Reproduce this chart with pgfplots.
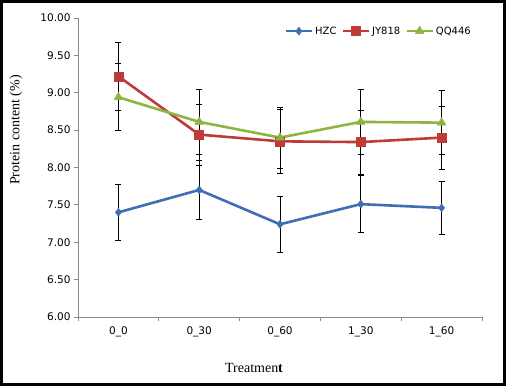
\documentclass[border=0pt]{standalone}
\usepackage{fontspec}
\setmainfont{Liberation Serif}
\newfontfamily\tickfont{DejaVu Sans}
\usepackage{pgfplots}
\pgfplotsset{compat=1.18}
\definecolor{cHZC}{HTML}{3F6EB5}
\definecolor{cJY}{HTML}{BE3B37}
\definecolor{cQQ}{HTML}{8DB53F}
\definecolor{axgray}{HTML}{8A8A8A}
\begin{document}
\begin{tikzpicture}[x=1pt,y=1pt]
\fill[white] (0,0) rectangle (506,386);
\begin{axis}[at={(78pt,69pt)}, anchor=south west, scale only axis,
  width=404pt, height=299pt,
  xmin=-0.5, xmax=4.5, ymin=6, ymax=10,
  axis x line*=bottom, axis y line*=left,
  axis line style={axgray, line width=0.8pt, -},
  tick style={axgray, line width=0.8pt},
  tick align=outside, major tick length=4pt,
  xtick={-0.5,0.5,1.5,2.5,3.5,4.5}, xticklabels={},
  extra x ticks={0,1,2,3,4},
  extra x tick labels={0\_0,0\_30,0\_60,1\_30,1\_60},
  extra x tick style={major tick length=0pt},
  xticklabel style={font=\tickfont\fontsize{10.5}{12}\selectfont, yshift=-6pt, text=black},
  ytick={6,6.5,7,7.5,8,8.5,9,9.5,10},
  yticklabel style={font=\tickfont\fontsize{10.5}{12}\selectfont, text=black,
    /pgf/number format/.cd, fixed, fixed zerofill, precision=2, assume math mode=true},
  legend style={at={(0.985,0.985)}, anchor=north east, draw=none, fill=none,
    legend columns=3, font=\tickfont\fontsize{10}{11}\selectfont,
    /tikz/every even column/.append style={column sep=3pt}},
  legend image code/.code={\draw[mark repeat=2, mark phase=2, #1] plot coordinates {(0pt,0pt) (13pt,0pt) (26pt,0pt)};},
  error bars/y dir=both, error bars/y explicit,
  error bars/error bar style={black, line width=0.8pt},
  error bars/error mark options={black, rotate=90, mark size=3pt, line width=0.8pt},
]
\addplot[cHZC, line width=2.6pt, mark=diamond*, mark size=4pt, mark options={line width=0.5pt}]
  coordinates {(0,7.40) +- (0,0.37) (1,7.70) +- (0,0.39) (2,7.24) +- (0,0.37) (3,7.51) +- (0,0.38) (4,7.46) +- (0,0.36)};
\addlegendentry{HZC}
\addplot[cJY, line width=2.6pt, mark=square*, mark size=4.5pt, mark options={line width=0.5pt}]
  coordinates {(0,9.22) +- (0,0.46) (1,8.44) +- (0,0.41) (2,8.35) +- (0,0.43) (3,8.34) +- (0,0.43) (4,8.40) +- (0,0.42)};
\addlegendentry{JY818}
\addplot[cQQ, line width=2.6pt, mark=triangle*, mark size=5pt, mark options={line width=0.5pt}]
  coordinates {(0,8.94) +- (0,0.45) (1,8.61) +- (0,0.44) (2,8.40) +- (0,0.41) (3,8.61) +- (0,0.43) (4,8.60) +- (0,0.43)};
\addlegendentry{QQ446}
\end{axis}
\node[rotate=90, font=\fontsize{14}{16}\selectfont] at (16,256) {Protein content (\%)};
\node[font=\fontsize{14}{16}\selectfont] at (254,18) {Treatmen\textbf{t}};
\draw[line width=3pt] (1.5,1.5) rectangle (504.5,384.5);
\end{tikzpicture}
\end{document}
